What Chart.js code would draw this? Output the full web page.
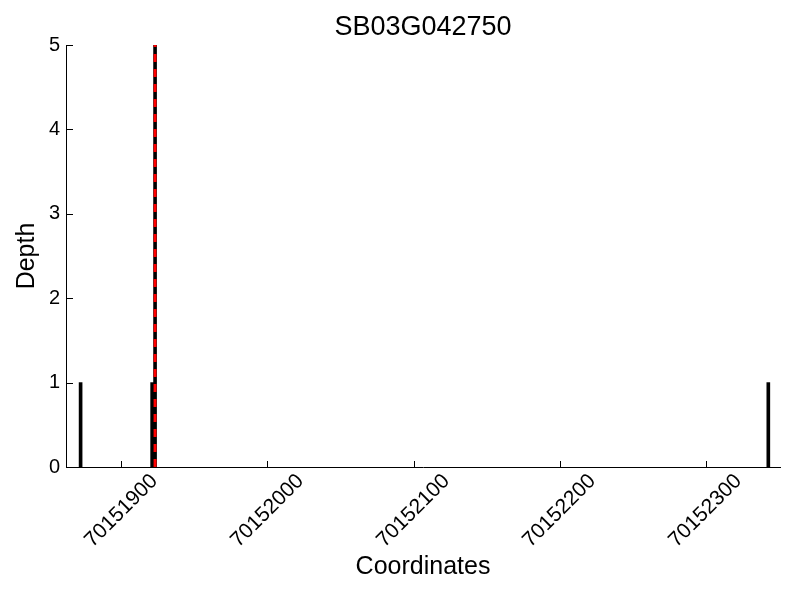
<!DOCTYPE html>
<html>
<head>
<meta charset="utf-8">
<script src="https://cdn.jsdelivr.net/npm/chart.js@4/dist/chart.umd.min.js"></script>
<style>
  html, body { margin: 0; padding: 0; background: #fff; }
  #wrap { width: 800px; height: 600px; }
</style>
</head>
<body>
<div id="wrap"><canvas id="depth-plot" width="800" height="600"></canvas></div>
<script>
// read-depth bars for one gene, plus the marker position (red dashed line)
const positions = [70151872, 70151921, 70151923, 70152343];
const depths = [1, 1, 5, 1];
const markerPos = 70151923;
const xTicks = [70151900, 70152000, 70152100, 70152200, 70152300];
const yTicks = [0, 1, 2, 3, 4, 5];

const FONT = 'Liberation Sans, Arial, Helvetica, sans-serif';

// matplotlib-style inward ticks
const inwardTicks = {
  id: 'inwardTicks',
  afterDraw(chart) {
    const { ctx, chartArea, scales } = chart;
    ctx.save();
    ctx.strokeStyle = '#000';
    ctx.lineWidth = 1;
    ctx.beginPath();
    xTicks.forEach(v => {
      const px = Math.round(scales.x.getPixelForValue(v)) + 0.5;
      ctx.moveTo(px, chartArea.bottom);
      ctx.lineTo(px, chartArea.bottom - 6);
    });
    yTicks.forEach(v => {
      const py = Math.round(scales.y.getPixelForValue(v)) + 0.5;
      ctx.moveTo(chartArea.left, py);
      ctx.lineTo(chartArea.left + 7, py);
    });
    ctx.stroke();
    ctx.restore();
  }
};

const ctx = document.getElementById('depth-plot').getContext('2d');
new Chart(ctx, {
  type: 'bar',
  data: {
    datasets: [{
      type: 'bar',
      data: positions.map((p, i) => ({ x: p, y: depths[i] })),
      backgroundColor: '#000',
      barThickness: 3,
      order: 2
    }, {
      type: 'line',
      data: [{ x: markerPos, y: 0 }, { x: markerPos, y: 5 }],
      borderColor: 'red',
      borderWidth: 3,
      borderDash: [8, 7],
      pointRadius: 0,
      fill: false,
      order: 1
    }]
  },
  options: {
    responsive: false,
    animation: false,
    layout: { padding: { left: 0, right: 20, top: 0, bottom: 0 } },
    plugins: {
      legend: { display: false },
      tooltip: { enabled: false },
      title: {
        display: true,
        fullSize: false,
        text: 'SB03G042750',
        color: '#000',
        font: { family: FONT, size: 27, weight: 'normal' },
        padding: { top: 11, bottom: 1.6 }
      }
    },
    scales: {
      x: {
        type: 'linear',
        min: 70151862,
        max: 70152351,
        offset: false,
        grid: { display: false, drawTicks: false },
        border: { display: true, color: '#000', width: 1 },
        afterBuildTicks(scale) {
          scale.ticks = xTicks.map(v => ({ value: v }));
        },
        afterFit(scale) { scale.height = 133; },
        ticks: {
          color: '#000',
          font: { family: FONT, size: 21 },
          minRotation: 45,
          maxRotation: 45,
          padding: 2,
          labelOffset: 33,
          callback: v => String(v)
        },
        title: {
          display: true,
          text: 'Coordinates',
          color: '#000',
          font: { family: FONT, size: 25 },
          padding: { top: 0, bottom: 18 }
        }
      },
      y: {
        min: 0,
        max: 5,
        grid: { display: false, drawTicks: false },
        border: { display: true, color: '#000', width: 1 },
        afterBuildTicks(scale) {
          scale.ticks = yTicks.map(v => ({ value: v }));
        },
        afterFit(scale) { scale.width = 66; },
        ticks: {
          color: '#000',
          font: { family: FONT, size: 20 },
          padding: 6,
          callback: v => String(v)
        },
        title: {
          display: true,
          text: 'Depth',
          color: '#000',
          font: { family: FONT, size: 25 },
          padding: { top: 12, bottom: 0 }
        }
      }
    }
  },
  plugins: [inwardTicks]
});
</script>
</body>
</html>
